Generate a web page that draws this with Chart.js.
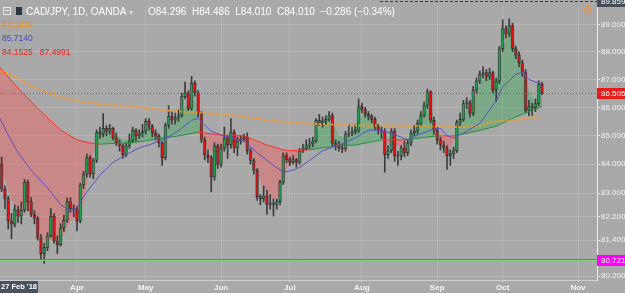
<!DOCTYPE html>
<html lang="en">
<head>
<meta charset="UTF-8">
<title>CAD/JPY, 1D, OANDA</title>
<script src="https://cdn.jsdelivr.net/npm/chart.js"></script>
<style>
  html, body { margin: 0; padding: 0; background: #a9a9a9; }
  .wrap { position: relative; width: 625px; height: 293px; overflow: hidden; background: #a9a9a9; }
  canvas { display: block; }
  .txt { position: absolute; font-family: "Liberation Sans", Arial, sans-serif; white-space: nowrap; line-height: 12px; }
  .hdr { top: 6px; font-size: 10px; color: #ffffff; }
  .study { font-size: 8.5px; left: 2px; }
  .ico-min { position: absolute; left: 3px; top: 7px; width: 6px; height: 6px; border: 1px solid #e8e8e8; }
  .ico-min::after { content: ""; position: absolute; left: 1px; top: 2px; width: 4px; height: 1px; background: #e8e8e8; }
  .ico-sym { position: absolute; left: 16px; top: 7px; width: 6px; height: 8px; background: #2c3440; }
</style>
</head>
<body>
<div class="wrap">
  <canvas id="chart" width="625" height="293"></canvas>
  <span class="ico-min"></span><span class="ico-sym"></span>
  <div class="txt hdr" style="left:26px">CAD/JPY, 1D, OANDA <span style="color:#dcdcdc;font-size:8px">&#9662;</span></div>
  <div class="txt hdr" id="ohlc" style="left:148px"></div>
  <div class="txt study" id="leg1" style="top:18px;color:#ff8800"></div>
  <div class="txt study" id="leg2" style="top:32px;color:#4a44c0"></div>
  <div class="txt study" id="leg3" style="top:46px;color:#e8231f"></div>
</div>
<script>
// daily bars, weekdays only, index 0 = 27 Feb 2018
const firstDate = "27 Feb '18";
const monthTickIdx = [24, 45, 68, 89, 111, 134, 154, 177];
const monthTickLabels = ['Apr', 'May', 'Jun', 'Jul', 'Aug', 'Sep', 'Oct', 'Nov'];
const priceTicks = [80.2, 81.4, 82.2, 83, 84, 85, 86, 87, 88, 89];

const opens = [
  84.296, 84.01, 83.14, 82.81, 82.04, 81.94, 82.44, 82.21, 82.41, 83.38,
  82.71, 82.27, 82.14, 81.48, 80.95, 81.15, 81.55, 82.21, 81.38, 81.25,
  81.81, 82.07, 82.71, 82.47, 82.44, 82.04, 83.28, 83.65, 84.23, 83.65,
  84.13, 85.12, 85.05, 85.26, 85.16, 85.26, 84.92, 84.74, 84.64, 84.33,
  84.64, 84.81, 85.19, 84.99, 85.09, 85.16, 85.50, 85.33, 85.09, 84.99,
  84.74, 84.23, 85.36, 85.68, 85.54, 85.64, 85.71, 86.38, 86.52, 85.96,
  86.87, 86.52, 85.78, 84.85, 84.33, 84.23, 83.55, 84.64, 83.99, 84.57,
  84.92, 84.67, 85.12, 84.57, 84.81, 84.88, 84.95, 84.47, 84.13, 83.79,
  82.88, 82.81, 82.91, 82.61, 82.67, 82.61, 82.71, 83.38, 84.30, 84.16,
  84.06, 84.16, 84.06, 84.47, 84.54, 84.67, 84.71, 84.81, 85.54, 85.43,
  85.50, 85.57, 85.71, 84.74, 84.64, 84.57, 84.54, 85.05, 85.09, 85.12,
  85.19, 86.03, 85.92, 85.75, 85.68, 85.57, 85.33, 85.19, 85.16, 84.33,
  84.47, 85.16, 84.30, 84.28, 84.57, 84.40, 84.74, 85.09, 85.16, 85.43,
  85.71, 86.06, 86.55, 85.54, 85.19, 84.85, 84.67, 84.57, 84.30, 84.37,
  84.47, 85.47, 85.57, 86.13, 86.17, 85.78, 86.62, 86.94, 87.18, 87.25,
  87.11, 87.25, 86.62, 86.94, 88.11, 88.85, 88.64, 88.96, 88.11, 87.89,
  87.60, 87.25, 85.89, 86.03, 85.99, 86.13, 86.83
];
const highs = [
  84.486, 84.25, 83.25, 82.90, 82.30, 82.60, 82.55, 82.70, 83.48, 83.45,
  82.85, 82.40, 82.20, 81.60, 81.30, 81.65, 82.47, 82.30, 81.55, 81.95,
  82.25, 82.84, 82.85, 82.60, 82.55, 83.35, 83.75, 84.35, 84.30, 84.20,
  85.20, 85.30, 85.78, 85.35, 85.40, 85.30, 85.10, 84.85, 84.70, 84.75,
  85.05, 85.30, 85.25, 85.20, 85.40, 85.60, 85.60, 85.40, 85.20, 85.05,
  84.80, 85.45, 86.06, 85.85, 85.80, 85.90, 86.50, 86.90, 86.60, 87.11,
  86.95, 86.60, 85.85, 84.95, 84.50, 84.30, 84.75, 84.70, 84.70, 85.30,
  85.00, 85.60, 85.20, 84.95, 85.00, 85.05, 85.10, 84.55, 84.20, 83.85,
  82.95, 83.25, 83.10, 82.95, 82.80, 82.80, 83.45, 84.40, 84.40, 84.25,
  84.30, 84.20, 84.55, 84.70, 84.85, 84.90, 84.95, 85.60, 85.75, 85.65,
  85.70, 85.85, 85.80, 84.85, 84.80, 84.70, 85.15, 85.40, 85.30, 85.40,
  86.30, 86.15, 86.00, 85.85, 85.75, 85.65, 85.40, 85.30, 85.25, 84.65,
  85.25, 85.25, 84.45, 84.65, 84.80, 84.85, 85.20, 85.35, 85.55, 85.85,
  86.20, 86.65, 86.60, 85.65, 85.30, 84.95, 84.80, 84.65, 84.50, 84.60,
  85.55, 85.80, 86.25, 86.35, 86.25, 86.75, 87.05, 87.30, 87.46, 87.35,
  87.40, 87.30, 87.05, 88.20, 89.17, 88.95, 89.21, 89.05, 88.20, 88.00,
  87.70, 87.35, 86.25, 86.15, 86.30, 86.95, 86.90
];
const lows = [
  84.01, 83.05, 82.47, 81.78, 81.45, 81.85, 82.00, 81.95, 82.35, 82.40,
  82.20, 81.95, 81.40, 80.72, 80.62, 81.05, 81.50, 81.30, 80.95, 81.20,
  81.70, 82.00, 82.35, 82.20, 81.71, 81.98, 83.15, 83.55, 83.55, 83.50,
  84.05, 84.90, 84.95, 85.00, 85.05, 84.85, 84.65, 84.45, 84.20, 84.25,
  84.55, 84.75, 84.80, 84.90, 84.95, 85.05, 85.20, 84.95, 84.85, 84.60,
  83.96, 84.15, 85.25, 85.40, 85.40, 85.50, 85.65, 86.30, 85.85, 85.90,
  86.40, 85.65, 84.75, 84.15, 84.05, 83.04, 83.45, 83.85, 83.90, 84.45,
  84.20, 84.55, 84.40, 84.30, 84.70, 84.80, 84.35, 84.00, 83.65, 82.75,
  82.60, 82.70, 82.27, 82.45, 82.21, 82.45, 82.60, 83.30, 84.05, 83.95,
  84.00, 83.90, 84.00, 84.40, 84.50, 84.55, 84.60, 84.75, 85.35, 85.30,
  85.40, 85.50, 84.65, 84.50, 84.45, 84.40, 84.45, 84.95, 85.00, 85.05,
  85.10, 85.80, 85.65, 85.55, 85.45, 85.20, 85.05, 84.90, 83.72, 84.20,
  84.40, 84.10, 83.96, 84.15, 84.25, 84.30, 84.65, 85.00, 85.05, 85.35,
  85.65, 85.95, 85.45, 85.05, 84.70, 84.50, 84.40, 83.82, 83.96, 84.20,
  84.40, 85.35, 85.50, 85.95, 85.65, 85.70, 86.50, 86.85, 87.05, 86.95,
  87.00, 86.50, 86.20, 86.85, 88.00, 88.50, 88.55, 88.00, 87.75, 87.45,
  87.10, 85.80, 85.70, 85.71, 85.85, 86.05, 86.45
];
const closes = [
  84.01, 83.14, 82.81, 82.04, 81.94, 82.44, 82.21, 82.41, 83.38, 82.71,
  82.27, 82.14, 81.48, 80.95, 81.15, 81.55, 82.21, 81.38, 81.25, 81.81,
  82.07, 82.71, 82.47, 82.44, 82.04, 83.28, 83.65, 84.23, 83.65, 84.13,
  85.12, 85.05, 85.26, 85.16, 85.26, 84.92, 84.74, 84.64, 84.33, 84.64,
  84.81, 85.19, 84.99, 85.09, 85.16, 85.50, 85.33, 85.09, 84.99, 84.74,
  84.23, 85.36, 85.68, 85.54, 85.64, 85.71, 86.38, 86.52, 85.96, 86.87,
  86.52, 85.78, 84.85, 84.33, 84.23, 83.55, 84.64, 83.99, 84.57, 84.92,
  84.67, 85.12, 84.57, 84.81, 84.88, 84.95, 84.47, 84.13, 83.79, 82.88,
  82.81, 82.91, 82.61, 82.67, 82.61, 82.71, 83.38, 84.30, 84.16, 84.06,
  84.16, 84.06, 84.47, 84.54, 84.67, 84.71, 84.81, 85.54, 85.43, 85.50,
  85.57, 85.71, 84.74, 84.64, 84.57, 84.54, 85.05, 85.09, 85.12, 85.19,
  86.03, 85.92, 85.75, 85.68, 85.57, 85.33, 85.19, 85.16, 84.33, 84.47,
  85.16, 84.30, 84.28, 84.57, 84.40, 84.74, 85.09, 85.16, 85.43, 85.71,
  86.06, 86.55, 85.54, 85.19, 84.85, 84.67, 84.57, 84.30, 84.37, 84.47,
  85.47, 85.57, 86.13, 86.17, 85.78, 86.62, 86.94, 87.18, 87.25, 87.11,
  87.25, 86.62, 86.94, 88.11, 88.85, 88.64, 88.96, 88.11, 87.89, 87.60,
  87.25, 85.89, 86.03, 85.99, 86.13, 86.83, 86.505
];

// orange dotted moving average
const maLongIdx = [0, 6, 10, 15, 20, 25, 31, 36, 41, 46, 51, 60, 69, 75, 81, 88, 99, 110, 120, 130, 137, 142, 147, 152, 157, 162, 166];
const maLongVals = [87.3238, 87.05, 86.76, 86.52, 86.32, 86.21, 86.13, 86.06, 86.03, 85.96, 85.89, 85.82, 85.75, 85.68, 85.54, 85.47, 85.40, 85.36, 85.36, 85.33, 85.30, 85.30, 85.36, 85.50, 85.54, 85.61, 85.68];

// blue moving average
const maMidIdx = [0, 3, 6, 10, 15, 19, 22, 24, 27, 31, 35, 39, 43, 46, 49, 53, 56, 59, 61, 63, 65, 68, 71, 75, 79, 84, 87, 90, 92, 95, 99, 104, 109, 113, 117, 122, 125, 128, 132, 135, 137, 139, 142, 147, 152, 154, 158, 160, 162, 164, 166];
const maMidVals = [85.714, 85.02, 84.40, 83.79, 83.18, 82.61, 82.37, 82.51, 83.04, 83.62, 84.06, 84.33, 84.57, 84.67, 84.81, 85.02, 85.26, 85.54, 85.61, 85.36, 85.16, 85.02, 84.92, 84.81, 84.40, 83.96, 83.72, 83.79, 83.89, 84.13, 84.47, 84.67, 84.92, 85.19, 85.19, 84.99, 84.85, 85.02, 85.19, 85.26, 84.99, 84.92, 85.09, 85.43, 86.23, 86.73, 87.18, 87.25, 87.00, 86.90, 86.83];

// cloud: fast line and slow line, filled green when fast is above
const fastIdx = [
  0, 2, 4, 6, 8, 10, 12, 14, 16, 18, 20, 22, 24, 26, 28, 30, 32, 34, 36, 38,
  40, 42, 44, 46, 48, 50, 52, 54, 56, 58, 60, 62, 64, 66, 68, 70, 72, 74, 76, 78,
  80, 82, 84, 86, 88, 90, 92, 94, 96, 98, 100, 102, 104, 106, 108, 110, 112, 114, 116, 118,
  120, 122, 124, 126, 128, 130, 132, 134, 136, 138, 140, 142, 144, 146, 148, 150, 152, 154, 156, 158,
  160, 162, 164, 166
];
const fastVals = [
  84.1525, 83.45, 82.75, 82.40, 82.45, 82.30, 81.85, 81.35, 81.40, 81.35,
  81.60, 82.05, 82.15, 82.70, 83.90, 84.90, 85.15, 85.20, 85.00, 84.85,
  84.85, 85.00, 85.10, 85.30, 85.15, 84.95, 85.25, 85.50, 85.85, 86.15,
  86.25, 85.00, 84.55, 84.35, 84.40, 84.65, 84.75, 84.80, 84.75, 84.25,
  83.40, 82.95, 82.75, 82.95, 83.85, 84.10, 84.35, 84.60, 84.75, 85.30,
  85.50, 85.45, 85.00, 84.95, 85.10, 85.60, 85.85, 85.70, 85.40, 84.75,
  84.70, 84.62, 84.70, 85.00, 85.35, 85.85, 86.00, 85.10, 84.65, 84.55,
  85.10, 85.80, 86.00, 86.55, 87.05, 87.20, 86.95, 88.10, 88.75, 88.25,
  87.55, 86.60, 86.20, 86.55
];
const slowIdx = [0, 7, 13, 19, 24, 28, 31, 41, 51, 55, 61, 68, 75, 78, 82, 87, 89, 95, 99, 104, 109, 114, 117, 120, 124, 129, 134, 139, 146, 152, 157, 162, 166];
const slowVals = [87.4991, 86.55, 85.85, 85.19, 84.85, 84.74, 84.70, 84.75, 84.92, 84.99, 85.12, 85.02, 84.99, 84.85, 84.67, 84.50, 84.47, 84.50, 84.57, 84.64, 84.67, 84.78, 84.85, 84.85, 84.85, 84.92, 84.99, 84.99, 85.16, 85.33, 85.61, 85.85, 86.03];

const lastPrice = 86.505;
const levelPrice = 80.721;
const topPrice = 89.859;
const eventIdx = 180;

const UP = '#21a04f', DOWN = '#e61010';
const FONT = '"Liberation Sans", Arial, sans-serif';

function pts(xs, ys) { return xs.map((x, k) => ({ x: x, y: ys[k] })); }

function fastAt(x) {
  for (let k = 1; k < fastIdx.length; k++) {
    if (x <= fastIdx[k]) {
      const t = (x - fastIdx[k - 1]) / (fastIdx[k] - fastIdx[k - 1]);
      return fastVals[k - 1] + t * (fastVals[k] - fastVals[k - 1]);
    }
  }
  return fastVals[fastVals.length - 1];
}

// header texts
const chg = closes[0] - opens[0];
document.getElementById('ohlc').innerHTML =
  'O' + opens[0].toFixed(3) + '&nbsp; H' + highs[0].toFixed(3) + '&nbsp; L' + lows[0].toFixed(3) +
  '&nbsp; C' + closes[0].toFixed(3) + '&nbsp; ' + (chg < 0 ? '\u2212' : '+') + Math.abs(chg).toFixed(3) +
  ' (' + (chg < 0 ? '\u2212' : '+') + Math.abs(chg / opens[0] * 100).toFixed(2) + '%)';
document.getElementById('leg1').textContent = maLongVals[0].toFixed(4);
document.getElementById('leg2').textContent = maMidVals[0].toFixed(4);
document.getElementById('leg3').innerHTML = fastVals[0].toFixed(4) + '&nbsp;&nbsp; ' + slowVals[0].toFixed(4);

const candleIdx = closes.map((c, i) => i);

// horizontal lines, price labels and markers
const overlay = {
  id: 'overlay',
  afterDatasetsDraw(chart) {
    const { ctx, chartArea: a, scales: { x, y } } = chart;
    ctx.save();
    ctx.lineWidth = 1;
    // top dashed line
    ctx.strokeStyle = '#3a3a3a';
    ctx.setLineDash([3, 2]);
    ctx.beginPath(); ctx.moveTo(380, 1.5); ctx.lineTo(a.right, 1.5); ctx.stroke();
    // last price
    const yl = Math.round(y.getPixelForValue(lastPrice)) + 0.5;
    ctx.strokeStyle = '#e8322c';
    ctx.setLineDash([1, 2]);
    ctx.beginPath(); ctx.moveTo(a.left, yl); ctx.lineTo(a.right, yl); ctx.stroke();
    // level line
    ctx.setLineDash([]);
    const yv = Math.round(y.getPixelForValue(levelPrice)) + 0.5;
    ctx.strokeStyle = '#d23cd2';
    ctx.beginPath(); ctx.moveTo(a.left, yv - 1); ctx.lineTo(a.right, yv - 1); ctx.stroke();
    ctx.strokeStyle = '#7fcf7f';
    ctx.beginPath(); ctx.moveTo(a.left, yv); ctx.lineTo(a.right, yv); ctx.stroke();
    // event marker
    const ex = x.getPixelForValue(eventIdx);
    ctx.strokeStyle = '#ff8a1c';
    ctx.beginPath(); ctx.arc(ex, 10, 3.6, 0, Math.PI * 2); ctx.stroke();
    ctx.fillStyle = '#ff8a1c';
    ctx.font = 'bold 6px ' + FONT;
    ctx.textAlign = 'center'; ctx.textBaseline = 'middle';
    ctx.fillText('!', ex, 10.5);
    ctx.restore();
  },
  afterDraw(chart) {
    const { ctx, chartArea: a, scales: { y } } = chart;
    ctx.save();
    ctx.font = '8px ' + FONT;
    ctx.textBaseline = 'middle';
    const box = (val, bg, txt) => {
      const yy = Math.round(y.getPixelForValue(val));
      ctx.fillStyle = bg;
      ctx.fillRect(a.right, yy - 5, 625 - a.right, 11);
      ctx.fillStyle = txt;
      ctx.textAlign = 'left';
      ctx.fillText(val.toFixed(3), a.right + 4, yy + 0.5);
    };
    box(lastPrice, '#e51c1c', '#ffffff');
    box(levelPrice, '#ff00ff', '#ffffff');
    box(topPrice, '#464e5a', '#ffffff');
    // date box on the time axis
    ctx.fillStyle = '#4a5160';
    ctx.fillRect(0, a.bottom + 1, 38, 293 - a.bottom - 1);
    ctx.fillStyle = '#ffffff';
    ctx.font = 'bold 7.5px ' + FONT;
    ctx.textAlign = 'center';
    ctx.fillText(firstDate, 19, a.bottom + 7);
    ctx.restore();
  }
};

new Chart(document.getElementById('chart'), {
  type: 'bar',
  data: {
    datasets: [
      {
        type: 'bar', label: 'wicks', order: 4, grouped: false,
        data: candleIdx.map(i => ({ x: i, y: [lows[i], highs[i]] })),
        backgroundColor: '#3c3c3c', barThickness: 1
      },
      {
        type: 'bar', label: 'bodies', order: 3, grouped: false, minBarLength: 1,
        data: candleIdx.map(i => ({ x: i, y: [opens[i], closes[i]] })),
        backgroundColor: candleIdx.map(i => closes[i] >= opens[i] ? UP : DOWN),
        borderColor: 'rgba(25,25,25,0.55)', borderWidth: 1, borderSkipped: false,
        barThickness: 3
      },
      {
        type: 'line', label: 'fast', order: 10,
        data: pts(fastIdx, fastVals),
        borderColor: 'rgba(0,0,0,0)', borderWidth: 0, pointRadius: 0,
        fill: { target: 3, above: 'rgba(60,170,90,0.42)', below: 'rgba(240,95,95,0.45)' }
      },
      {
        type: 'line', label: 'slow', order: 2,
        data: pts(slowIdx, slowVals),
        borderWidth: 1, pointRadius: 0, fill: false,
        borderColor: '#ff2d2d',
        segment: {
          borderColor: c => {
            const xm = (c.p0.parsed.x + c.p1.parsed.x) / 2;
            const ym = (c.p0.parsed.y + c.p1.parsed.y) / 2;
            return ym >= fastAt(xm) ? '#ff2d2d' : '#1f8f3e';
          }
        }
      },
      {
        type: 'line', label: 'ma long', order: 1,
        data: pts(maLongIdx, maLongVals),
        borderColor: '#ff9a14', borderWidth: 2, borderDash: [2, 2], pointRadius: 0, fill: false
      },
      {
        type: 'line', label: 'ma mid', order: 0,
        data: pts(maMidIdx, maMidVals),
        borderColor: '#5a4fc8', borderWidth: 1, pointRadius: 0, fill: false
      }
    ]
  },
  options: {
    responsive: false,
    animation: false,
    events: [],
    layout: { padding: 0 },
    plugins: { legend: { display: false }, tooltip: { enabled: false } },
    scales: {
      x: {
        type: 'linear', min: 0.49, max: 182.8, offset: false,
        afterBuildTicks: ax => { ax.ticks = monthTickIdx.map(v => ({ value: v })); },
        afterFit: ax => { ax.height = 13; },
        ticks: {
          autoSkip: false, maxRotation: 0, padding: 1, color: '#f4f4f4',
          font: { family: FONT, size: 8, weight: 'bold' },
          callback: v => monthTickLabels[monthTickIdx.indexOf(v)] || ''
        },
        grid: { offset: false, color: 'rgba(255,255,255,0.16)', tickColor: '#d8d8d8', tickLength: 2 },
        border: { color: '#cfcfcf' }
      },
      y: {
        type: 'logarithmic', position: 'right', min: 80.07, max: 89.69,
        afterBuildTicks: ax => { ax.ticks = priceTicks.map(v => ({ value: v })); },
        afterFit: ax => { ax.width = 28; },
        ticks: {
          autoSkip: false, padding: 1, color: '#f4f4f4',
          font: { family: FONT, size: 8 },
          callback: v => Number(v).toFixed(3)
        },
        grid: { color: 'rgba(255,255,255,0.16)', tickColor: '#e8e8e8', tickLength: 3 },
        border: { color: '#f0f0f0' }
      }
    }
  },
  plugins: [overlay]
});
</script>
</body>
</html>
